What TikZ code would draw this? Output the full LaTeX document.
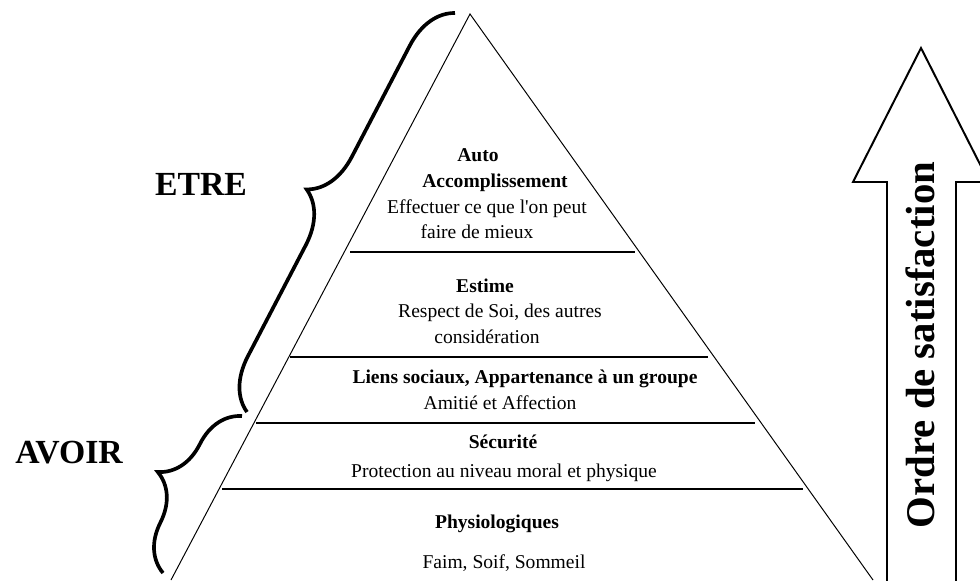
\documentclass[tikz,border=0pt]{standalone}
\usepackage{fontspec}
\setmainfont{Liberation Serif}[Ligatures=TeXOff]
\usetikzlibrary{calc,positioning,decorations.pathreplacing}

\begin{document}
\begin{tikzpicture}[x=0.025cm,y=-0.025cm,
    edge/.style={line width=0.7pt},
    niveau/.style={line width=1.3pt},
    accolade/.style={line width=2.6pt,decorate,decoration={brace,amplitude=1.25cm}},
    titre/.style={font=\fontsize{13.9}{16}\selectfont\bfseries,anchor=base},
    texte/.style={font=\fontsize{13.9}{16}\selectfont,anchor=base},
    grand/.style={font=\fontsize{24}{28}\selectfont\bfseries,anchor=base}]
  \useasboundingbox (0,0) rectangle (980,580);
  \clip (0,0) rectangle (980,580);
  % pyramide
  \coordinate (apex) at (470,14);
  \coordinate (bl) at (171,580);
  \coordinate (br) at (873,580);
  \draw[edge] (bl) -- (apex) -- (br);
  \foreach \y/\xa/\xb in {252/350/635,357/290/708,423/256/755,489/222/803}
    \draw[niveau] (\xa,\y) -- (\xb,\y);
  % niveaux
  \node[titre] (auto) at (478,161) {Auto};
  \node[titre] (accomp) at (495,187) {Accomplissement};
  \node[texte] (effect) at (487,213) {Effectuer ce que l'on peut};
  \node[texte] (faire) at (477,238) {faire de mieux};
  \node[titre] (estime) at (485,292) {Estime};
  \node[texte] (respect) at (500,317) {Respect de Soi, des autres};
  \node[texte] (consid) at (487,343) {considération};
  \node[titre] (liens) at (525,383) {Liens sociaux, Appartenance à un groupe};
  \node[texte] (amitie) at (500,409) {Amitié et Affection};
  \node[titre] (secu) at (503,448) {Sécurité};
  \node[texte] (protec) at (504,477) {Protection au niveau moral et physique};
  \node[titre] (physio) at (497,528) {Physiologiques};
  \node[texte] (faim) at (504,568) {Faim, Soif, Sommeil};
  % accolades
  \coordinate (etre-b) at (247,412);
  \coordinate (etre-h) at (455,13);
  \coordinate (avoir-b) at (163,573);
  \coordinate (avoir-h) at (242,416);
  \draw[accolade] (etre-b) -- (etre-h);
  \draw[accolade] (avoir-b) -- (avoir-h);
  \node[grand] (etre) at (201,195) {ETRE};
  \node[grand] (avoir) at (69,463) {AVOIR};
  % fleche
  \draw[line width=1.4pt,line join=miter]
    (887,600) -- (887,182) -- (853,182) -- (921,48) -- (989,182)
    -- (956,182) -- (956,600);
  \node[font=\fontsize{29}{34}\selectfont\bfseries,anchor=base,rotate=90]
    (ordre) at (934,345) {Ordre de satisfaction};
\end{tikzpicture}
\end{document}
